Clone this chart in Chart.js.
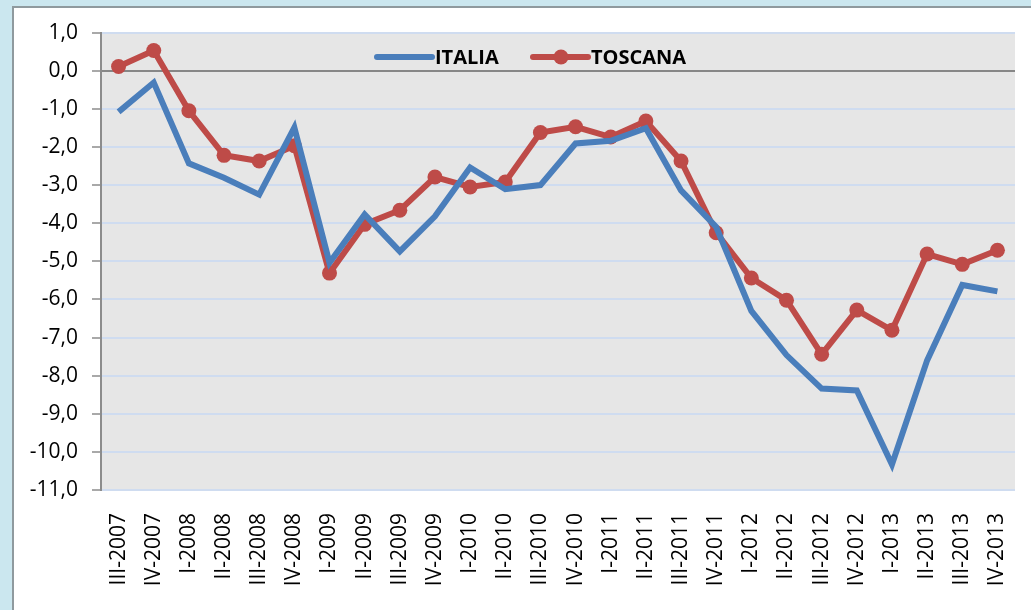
<!DOCTYPE html>
<html>
<head>
<meta charset="utf-8">
<script src="https://cdn.jsdelivr.net/npm/chart.js@4"></script>
<style>
    html, body { margin: 0; padding: 0; overflow: hidden; }
    body { width: 1031px; height: 610px; background: #cbe7ef; position: relative; }
    #box {
        position: absolute; left: 12px; top: 6px; width: 1030px; height: 620px;
        background: #ffffff; border-left: 2px solid #8f9a9e; border-top: 2px solid #8f9a9e;
        box-sizing: border-box;
    }
    #chart { position: absolute; left: 12px; top: 6px; }
</style>
</head>
<body>
<div id="box"></div>
<canvas id="chart" width="1019" height="604"></canvas>
<script>
const quarters = [
    'III-2007', 'IV-2007', 'I-2008', 'II-2008', 'III-2008', 'IV-2008',
    'I-2009', 'II-2009', 'III-2009', 'IV-2009', 'I-2010', 'II-2010',
    'III-2010', 'IV-2010', 'I-2011', 'II-2011', 'III-2011', 'IV-2011',
    'I-2012', 'II-2012', 'III-2012', 'IV-2012', 'I-2013', 'II-2013',
    'III-2013', 'IV-2013'
];
const italia = [
    -1.08, -0.31, -2.43, -2.81, -3.25, -1.49, -5.04, -3.77, -4.74, -3.82,
    -2.54, -3.11, -3.0, -1.91, -1.84, -1.51, -3.14, -4.1, -6.3, -7.46,
    -8.34, -8.39, -10.33, -7.6, -5.62, -5.79
];
const toscana = [
    0.11, 0.53, -1.05, -2.22, -2.37, -1.97, -5.31, -4.03, -3.66, -2.79,
    -3.05, -2.92, -1.62, -1.47, -1.74, -1.32, -2.37, -4.25, -5.44, -6.02,
    -7.44, -6.28, -6.81, -4.81, -5.08, -4.71
];
const yTicks = [1, 0, -1, -2, -3, -4, -5, -6, -7, -8, -9, -10, -11];

const BLUE = '#4a7ebb';
const RED = '#be4b48';
const FONT = "'Open Sans', 'Liberation Sans', sans-serif";

// grey plot background
const plotBg = {
    id: 'plotBg',
    beforeDraw(chart) {
        const { ctx, chartArea: a } = chart;
        ctx.save();
        ctx.fillStyle = '#e6e6e6';
        ctx.fillRect(a.left, a.top, a.right - a.left, a.bottom - a.top);
        ctx.restore();
    }
};

// legend drawn inside the plot, like the original
const innerLegend = {
    id: 'innerLegend',
    afterDatasetsDraw(chart) {
        const { ctx } = chart;
        const y = 51;
        const items = [{ x: 377 - 12 }, { x: 533 - 12 }];
        ctx.save();
        ctx.font = 'bold 20px ' + FONT;
        ctx.textBaseline = 'middle';
        chart.data.datasets.forEach((ds, i) => {
            const x = items[i].x;
            ctx.strokeStyle = ds.borderColor;
            ctx.lineWidth = 6;
            ctx.lineCap = 'round';
            ctx.beginPath();
            ctx.moveTo(x, y);
            ctx.lineTo(x + 55, y);
            ctx.stroke();
            if (ds.pointRadius > 0) {
                ctx.fillStyle = ds.borderColor;
                ctx.beginPath();
                ctx.arc(x + 28, y, 7.5, 0, Math.PI * 2);
                ctx.fill();
            }
            ctx.fillStyle = '#000000';
            ctx.fillText(ds.label, x + 58, y + 1);
        });
        ctx.restore();
    }
};

new Chart(document.getElementById('chart'), {
    type: 'line',
    data: {
        labels: quarters,
        datasets: [
            {
                label: 'ITALIA',
                data: italia,
                borderColor: BLUE,
                backgroundColor: BLUE,
                borderWidth: 6,
                pointRadius: 0,
                tension: 0
            },
            {
                label: 'TOSCANA',
                data: toscana,
                borderColor: RED,
                backgroundColor: RED,
                borderWidth: 6,
                pointRadius: 7.5,
                pointBorderWidth: 0,
                tension: 0
            }
        ]
    },
    options: {
        responsive: false,
        animation: false,
        layout: {
            padding: { top: 26, right: 16, left: 0, bottom: 0 }
        },
        plugins: {
            legend: { display: false },
            tooltip: { enabled: false }
        },
        scales: {
            x: {
                offset: true,
                grid: { display: false, drawTicks: false },
                border: { display: false },
                ticks: {
                    autoSkip: false,
                    minRotation: 90,
                    maxRotation: 90,
                    padding: 23,
                    color: '#000000',
                    font: { family: FONT, size: 21 }
                },
                afterFit(scale) {
                    scale.height = 120;
                    scale.paddingLeft = 0;
                    scale.paddingRight = 0;
                }
            },
            y: {
                min: -11,
                max: 1,
                afterBuildTicks(scale) {
                    scale.ticks = yTicks.map(v => ({ value: v }));
                },
                grid: {
                    color: ctx => ctx.tick && ctx.tick.value === 0 ? '#878787' : '#cfdcf0',
                    lineWidth: 2,
                    tickColor: '#8c8c8c',
                    tickLength: 9,
                    tickWidth: 1.5
                },
                border: { color: '#8c8c8c', width: 2 },
                ticks: {
                    padding: 14,
                    color: '#000000',
                    font: { family: FONT, size: 21 },
                    callback: v => v.toFixed(1).replace('.', ',').replace('-0,0', '0,0')
                },
                afterFit(scale) {
                    scale.width = 89;
                }
            }
        }
    },
    plugins: [plotBg, innerLegend]
});
</script>
</body>
</html>
